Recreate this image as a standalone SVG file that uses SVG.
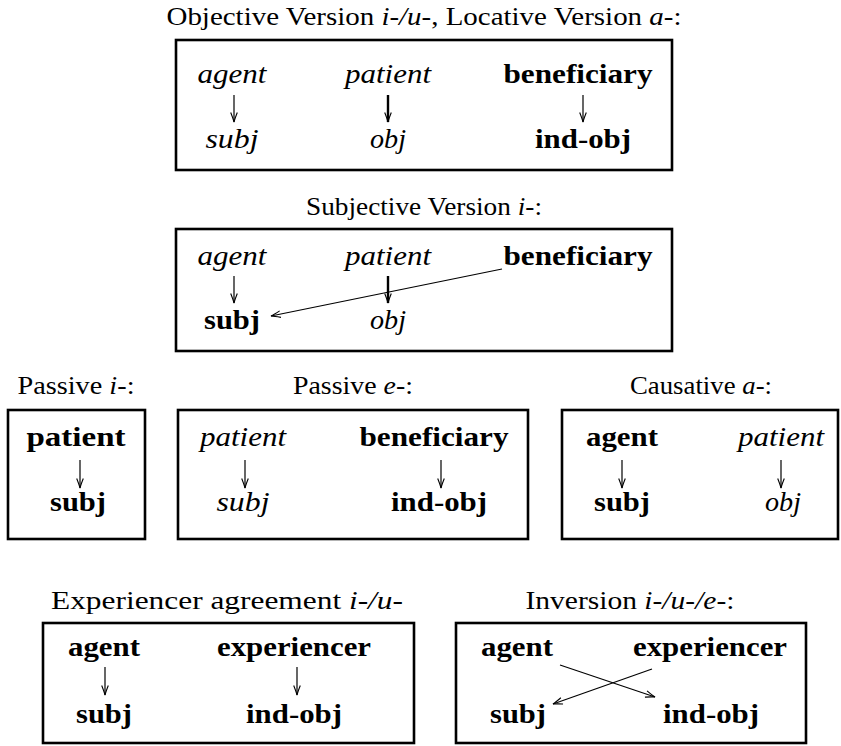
<svg xmlns="http://www.w3.org/2000/svg" width="841" height="746" viewBox="0 0 841 746">
  <style>
    text { font-family: "Liberation Serif", "Tinos", "Times New Roman", "DejaVu Serif", "Noto Serif", serif; fill: #000; text-anchor: middle; }
    .t { font-size: 25.8px; }
    .n { font-size: 27.5px; }
    .it { font-style: italic; }
    .b { font-weight: bold; }
    .box { fill: none; stroke: #000; stroke-width: 2.6; }
    .ar { fill: none; stroke: #000; stroke-width: 1.2; marker-end: url(#head); }
    .ar.thick { stroke-width: 2.4; }
  </style>
  <defs>
    <!-- open, slightly bowed arrow tip -->
    <marker id="head" markerUnits="userSpaceOnUse" viewBox="-11 -5 13 10" markerWidth="13" markerHeight="10" refX="0" refY="0" orient="auto" overflow="visible">
      <path d="M-9.5,-3.3 Q-3.2,-0.8 0,0 Q-3.2,0.8 -9.5,3.3" fill="none" stroke="#000" stroke-width="1.1"/>
    </marker>
  </defs>
  <rect width="841" height="746" fill="#fff"/>

  <!-- Panel 1: objective / locative version -->
  <g id="panel-objective">
    <text class="t" x="424" y="25" textLength="515" lengthAdjust="spacingAndGlyphs">Objective Version <tspan class="it">i-/u-</tspan>, Locative Version <tspan class="it">a-</tspan>:</text>
    <rect class="box" x="176" y="40" width="496" height="130"/>
    <g id="p1-agent"><text class="n it" x="232" y="83" textLength="69" lengthAdjust="spacingAndGlyphs">agent</text></g>
    <g id="p1-patient"><text class="n it" x="388" y="83" textLength="86" lengthAdjust="spacingAndGlyphs">patient</text></g>
    <g id="p1-beneficiary"><text class="n b" x="578" y="83" textLength="149" lengthAdjust="spacingAndGlyphs">beneficiary</text></g>
    <g id="p1-subj"><text class="n it" x="232" y="148" textLength="53" lengthAdjust="spacingAndGlyphs">subj</text></g>
    <g id="p1-obj"><text class="n it" x="388" y="148" textLength="36" lengthAdjust="spacingAndGlyphs">obj</text></g>
    <g id="p1-indobj"><text class="n b" x="583" y="148" textLength="96" lengthAdjust="spacingAndGlyphs">ind-obj</text></g>
  </g>

  <!-- Panel 2: subjective version -->
  <g id="panel-subjective">
    <text class="t" x="424" y="215" textLength="236" lengthAdjust="spacingAndGlyphs">Subjective Version <tspan class="it">i-</tspan>:</text>
    <rect class="box" x="176" y="229" width="496" height="122"/>
    <g id="p2-agent"><text class="n it" x="232" y="265" textLength="69" lengthAdjust="spacingAndGlyphs">agent</text></g>
    <g id="p2-patient"><text class="n it" x="388" y="265" textLength="86" lengthAdjust="spacingAndGlyphs">patient</text></g>
    <g id="p2-beneficiary"><text class="n b" x="578" y="265" textLength="149" lengthAdjust="spacingAndGlyphs">beneficiary</text></g>
    <g id="p2-subj"><text class="n b" x="232" y="329" textLength="56" lengthAdjust="spacingAndGlyphs">subj</text></g>
    <g id="p2-obj"><text class="n it" x="388" y="329" textLength="36" lengthAdjust="spacingAndGlyphs">obj</text></g>
  </g>

  <!-- Panel 3: passive i- -->
  <g id="panel-passive-i">
    <text class="t" x="76" y="394" textLength="117" lengthAdjust="spacingAndGlyphs">Passive <tspan class="it">i-</tspan>:</text>
    <rect class="box" x="8" y="410" width="137" height="129"/>
    <g id="p3-patient"><text class="n b" x="76" y="446" textLength="99" lengthAdjust="spacingAndGlyphs">patient</text></g>
    <g id="p3-subj"><text class="n b" x="78" y="511" textLength="56" lengthAdjust="spacingAndGlyphs">subj</text></g>
  </g>

  <!-- Panel 4: passive e- -->
  <g id="panel-passive-e">
    <text class="t" x="353" y="394" textLength="120" lengthAdjust="spacingAndGlyphs">Passive <tspan class="it">e-</tspan>:</text>
    <rect class="box" x="178" y="410" width="350" height="129"/>
    <g id="p4-patient"><text class="n it" x="243" y="446" textLength="86" lengthAdjust="spacingAndGlyphs">patient</text></g>
    <g id="p4-beneficiary"><text class="n b" x="434" y="446" textLength="149" lengthAdjust="spacingAndGlyphs">beneficiary</text></g>
    <g id="p4-subj"><text class="n it" x="243" y="511" textLength="53" lengthAdjust="spacingAndGlyphs">subj</text></g>
    <g id="p4-indobj"><text class="n b" x="439" y="511" textLength="96" lengthAdjust="spacingAndGlyphs">ind-obj</text></g>
  </g>

  <!-- Panel 5: causative a- -->
  <g id="panel-causative">
    <text class="t" x="701" y="394" textLength="142" lengthAdjust="spacingAndGlyphs">Causative <tspan class="it">a-</tspan>:</text>
    <rect class="box" x="562" y="410" width="276" height="129"/>
    <g id="p5-agent"><text class="n b" x="622" y="446" textLength="72" lengthAdjust="spacingAndGlyphs">agent</text></g>
    <g id="p5-patient"><text class="n it" x="781" y="446" textLength="86" lengthAdjust="spacingAndGlyphs">patient</text></g>
    <g id="p5-subj"><text class="n b" x="622" y="511" textLength="56" lengthAdjust="spacingAndGlyphs">subj</text></g>
    <g id="p5-obj"><text class="n it" x="783" y="511" textLength="36" lengthAdjust="spacingAndGlyphs">obj</text></g>
  </g>

  <!-- Panel 6: experiencer agreement -->
  <g id="panel-experiencer">
    <text class="t" x="227" y="609" textLength="352" lengthAdjust="spacingAndGlyphs">Experiencer agreement <tspan class="it">i-/u-</tspan></text>
    <rect class="box" x="43" y="623" width="371" height="120"/>
    <g id="p6-agent"><text class="n b" x="104" y="656" textLength="72" lengthAdjust="spacingAndGlyphs">agent</text></g>
    <g id="p6-experiencer"><text class="n b" x="294" y="656" textLength="154" lengthAdjust="spacingAndGlyphs">experiencer</text></g>
    <g id="p6-subj"><text class="n b" x="104" y="723" textLength="56" lengthAdjust="spacingAndGlyphs">subj</text></g>
    <g id="p6-indobj"><text class="n b" x="294" y="723" textLength="96" lengthAdjust="spacingAndGlyphs">ind-obj</text></g>
  </g>

  <!-- Panel 7: inversion -->
  <g id="panel-inversion">
    <text class="t" x="630" y="609" textLength="209" lengthAdjust="spacingAndGlyphs">Inversion <tspan class="it">i-/u-/e-</tspan>:</text>
    <rect class="box" x="456" y="623" width="350" height="120"/>
    <g id="p7-agent"><text class="n b" x="517" y="656" textLength="72" lengthAdjust="spacingAndGlyphs">agent</text></g>
    <g id="p7-experiencer"><text class="n b" x="710" y="656" textLength="154" lengthAdjust="spacingAndGlyphs">experiencer</text></g>
    <g id="p7-subj"><text class="n b" x="518" y="723" textLength="56" lengthAdjust="spacingAndGlyphs">subj</text></g>
    <g id="p7-indobj"><text class="n b" x="711" y="723" textLength="96" lengthAdjust="spacingAndGlyphs">ind-obj</text></g>
  </g>

  <!-- Connectors -->
  <g id="connectors">
    <line class="ar" x1="234" y1="95" x2="234" y2="122"/>
    <line class="ar thick" x1="388" y1="95" x2="388" y2="122"/>
    <line class="ar" x1="583" y1="95" x2="583" y2="122"/>

    <line class="ar" x1="234" y1="276" x2="234" y2="303"/>
    <line class="ar" x1="502" y1="269" x2="271" y2="316"/>
    <line class="ar thick" x1="388" y1="276" x2="388" y2="303"/>

    <line class="ar" x1="80" y1="460" x2="80" y2="488"/>

    <line class="ar" x1="245" y1="460" x2="245" y2="488"/>
    <line class="ar" x1="441" y1="460" x2="441" y2="488"/>

    <line class="ar" x1="622" y1="460" x2="622" y2="488"/>
    <line class="ar" x1="781" y1="460" x2="781" y2="488"/>

    <line class="ar" x1="105" y1="667" x2="105" y2="695"/>
    <line class="ar" x1="297" y1="667" x2="297" y2="695"/>

    <line class="ar" x1="560" y1="665" x2="655" y2="697"/>
    <line class="ar" x1="652" y1="669" x2="553" y2="704"/>
  </g>
</svg>
